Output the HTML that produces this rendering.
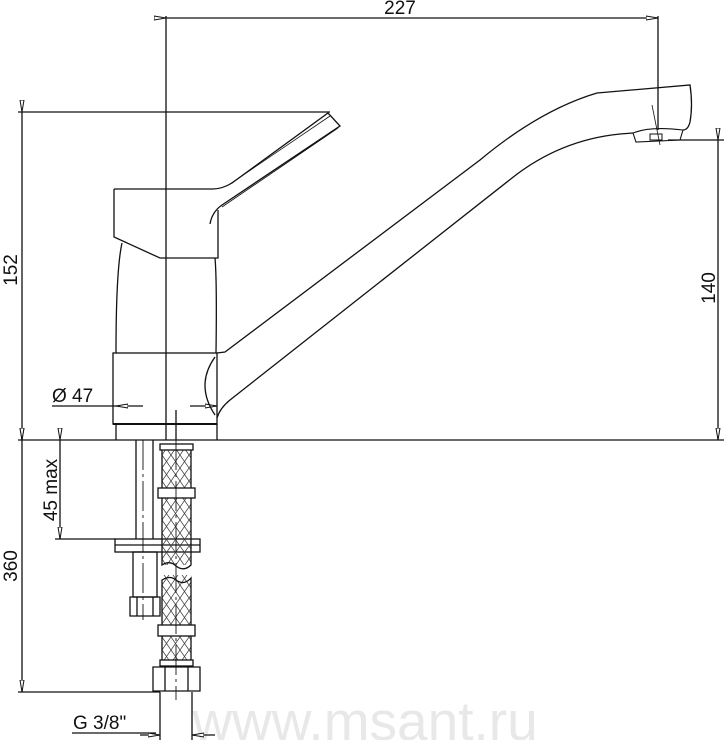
<!DOCTYPE html>
<html><head><meta charset="utf-8"><style>
html,body{margin:0;padding:0;background:#fff;}
svg{display:block;}
text{font-family:"Liberation Sans",sans-serif;}
</style></head><body>
<svg width="724" height="740" viewBox="0 0 724 740" xmlns="http://www.w3.org/2000/svg">
<defs>
<pattern id="hatch" width="9" height="13" patternUnits="userSpaceOnUse">
<path d="M0,0 L9,13 M9,0 L0,13" stroke="#333" stroke-width="0.7" fill="none"/>
</pattern>
<marker id="ar" viewBox="0 0 12 6" refX="12" refY="3" markerWidth="12" markerHeight="6" orient="auto" markerUnits="userSpaceOnUse">
<path d="M0,1 L12,3 L0,5 Z" fill="#fff" stroke="#111" stroke-width="1"/>
</marker>
</defs>
<text x="365" y="740" font-size="55" fill="#e8e8e8" text-anchor="middle">www.msant.ru</text>
<g stroke="#111" stroke-width="1.3" fill="none">
<line x1="166" y1="18" x2="658" y2="18" marker-start="url(#ar)" marker-end="url(#ar)"/>
<line x1="166" y1="16" x2="166" y2="440"/>
<line x1="658" y1="16" x2="658" y2="130"/>
<line x1="18" y1="112" x2="330" y2="112"/>
<line x1="22" y1="112" x2="22" y2="440" marker-start="url(#ar)" marker-end="url(#ar)"/>
<line x1="18" y1="440" x2="724" y2="440"/>
<line x1="668" y1="140" x2="724" y2="140"/>
<line x1="718" y1="140" x2="718" y2="440" marker-start="url(#ar)" marker-end="url(#ar)"/>
<line x1="22" y1="440" x2="22" y2="692" marker-start="url(#ar)" marker-end="url(#ar)"/>
<line x1="18" y1="692" x2="160" y2="692"/>
<line x1="60" y1="440" x2="60" y2="539" marker-start="url(#ar)" marker-end="url(#ar)"/>
<line x1="55" y1="539" x2="116" y2="539"/>
<line x1="52" y1="406" x2="116" y2="406"/>
<line x1="143" y1="406" x2="116" y2="406" marker-end="url(#ar)"/>
<line x1="190" y1="406" x2="217" y2="406" marker-end="url(#ar)"/>
<line x1="176" y1="410" x2="176" y2="440"/>
<line x1="72" y1="733" x2="156" y2="733"/>
<line x1="160" y1="692" x2="160" y2="740"/>
<line x1="192" y1="692" x2="192" y2="740"/>
<line x1="140" y1="735" x2="160" y2="735" marker-end="url(#ar)"/>
<line x1="215" y1="735" x2="192" y2="735" marker-end="url(#ar)"/>

<path d="M114,189 L213,189 Q222,189 232,183 L328,113 L340,126 L222,205 Q212,212 210,224"/>
<path d="M230,184 L330,116" stroke-width="0.8"/>
<path d="M222,207 L338,128" stroke-width="0.8"/>
<path d="M114,189 L114,237 L160,258 L218,258 L218,210"/>
<path d="M122,243 Q116,270 116,353"/>
<path d="M215,258 Q217,280 216,353"/>
<rect x="113" y="353" width="104" height="71"/>
<line x1="113" y1="424" x2="217" y2="424" stroke-width="2"/>
<path d="M116,424 L116,440 M217,424 L217,440"/>
<path d="M217,353 L225,352 L480,160 Q540,110 597,93 L690,85 Q693,105 690,122 Q688,130 683,130"/>
<path d="M217,418 Q220,408 230,400 L512,178 Q560,140 620,134 L633,133"/>
<path d="M215,357 Q195,385 215,415" />
<path d="M633,133 Q650,126 683,130 L680,140 L636,142 Z" stroke-width="1.1"/>
<rect x="650" y="134" width="12" height="6" stroke-width="1"/>
<line x1="652" y1="105" x2="660" y2="145" stroke-width="0.8"/>

<line x1="136" y1="440" x2="136" y2="539"/>
<line x1="153" y1="440" x2="153" y2="539"/>
<line x1="143" y1="440" x2="143" y2="620" stroke-dasharray="30 4 3 4" stroke-width="0.9"/>
<rect x="115" y="539" width="85" height="13"/>
<line x1="115" y1="545" x2="200" y2="545"/>
<rect x="133" y="552" width="24" height="45"/>
<path d="M130,597 L160,597 L160,616 L130,616 Z M137,597 L137,616 M153,597 L153,616"/>
<rect x="162" y="445" width="29" height="120" fill="url(#hatch)" stroke="none"/>
<rect x="162" y="575" width="29" height="92" fill="url(#hatch)" stroke="none"/>
<path d="M162,445 L162,565 Q170,560 176,566 Q184,572 191,565 L191,445"/>
<path d="M162,667 L162,580 Q170,575 176,580 Q184,586 191,578 L191,667"/>
<rect x="160" y="444" width="33" height="6" fill="#fff"/>
<rect x="158" y="488" width="37" height="10" fill="#fff"/>
<rect x="158" y="625" width="37" height="11" fill="#fff"/>
<rect x="160" y="660" width="33" height="6" fill="#fff"/>
<path d="M153,667 L200,667 L200,691 L153,691 Z M165,667 L165,691 M188,667 L188,691" fill="#fff"/>
<line x1="176" y1="440" x2="176" y2="700" stroke-dasharray="30 4 3 4" stroke-width="0.9"/>
</g>
<g font-size="19" fill="#111">
<text x="400" y="14" text-anchor="middle">227</text>
<text transform="translate(17,270) rotate(-90)" text-anchor="middle">152</text>
<text transform="translate(715,288) rotate(-90)" text-anchor="middle">140</text>
<text transform="translate(17,566) rotate(-90)" text-anchor="middle">360</text>
<text transform="translate(57,490) rotate(-90)" text-anchor="middle">45 max</text>
<text x="52" y="402">Ø 47</text>
<text x="73" y="729">G  3/8"</text>
</g>
</svg>
</body></html>
